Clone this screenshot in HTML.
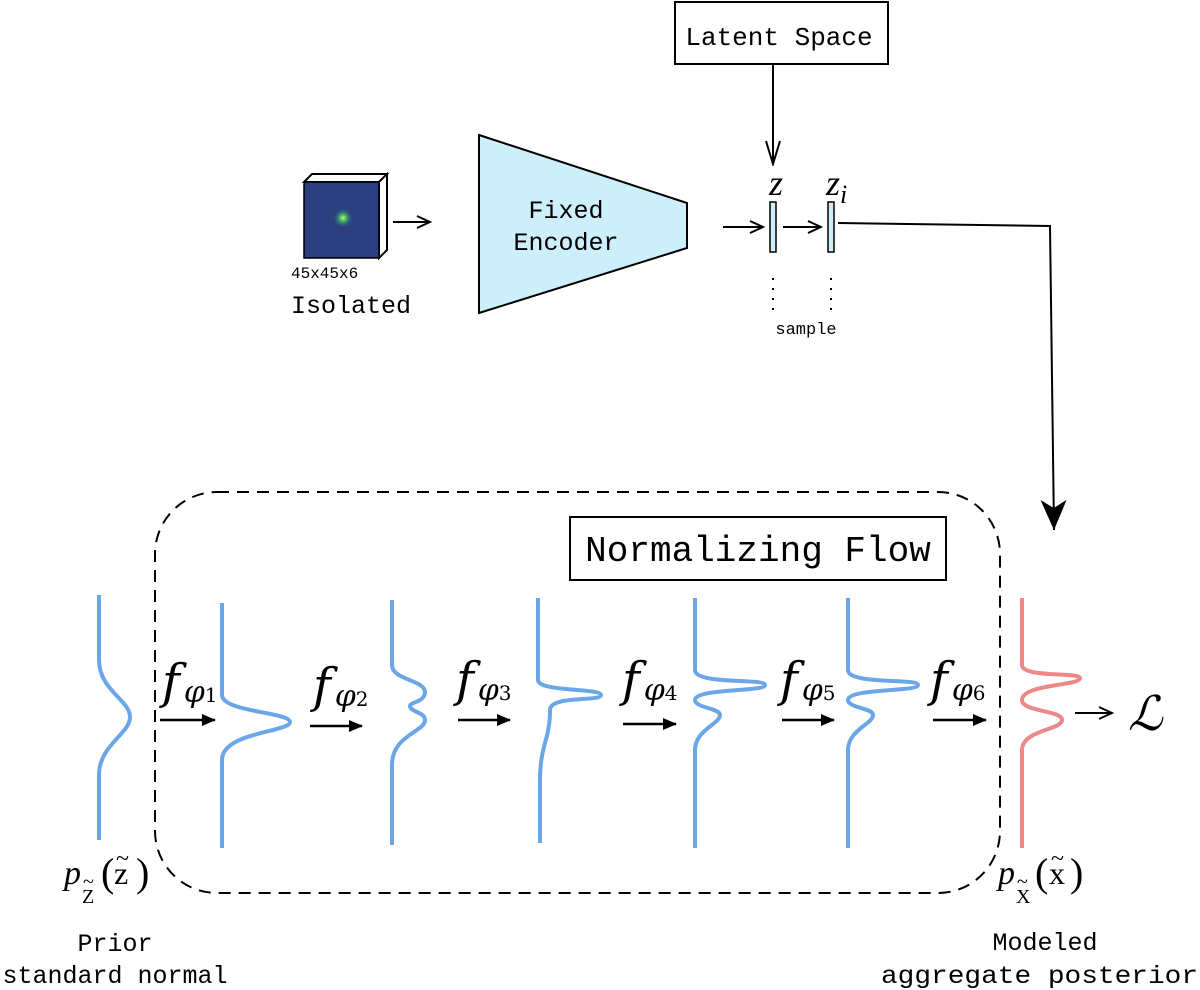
<!DOCTYPE html>
<html><head><meta charset="utf-8"><style>body{margin:0;background:#fff}svg{display:block}</style></head><body>
<svg width="1200" height="990" viewBox="0 0 1200 990" xmlns="http://www.w3.org/2000/svg">
<defs>
<marker id="open" markerWidth="16" markerHeight="14" refX="14" refY="7" orient="auto" markerUnits="userSpaceOnUse"><path d="M1,1 L14,7 L1,13" fill="none" stroke="#000" stroke-width="2"/></marker>
<marker id="fill" markerWidth="14" markerHeight="12" refX="13" refY="6" orient="auto" markerUnits="userSpaceOnUse"><path d="M0,0 L14,6 L0,12 Z" fill="#000"/></marker>
<marker id="vdown" markerWidth="26" markerHeight="18" refX="24" refY="9" orient="auto" markerUnits="userSpaceOnUse"><path d="M1,2 L24,9 L1,16" fill="none" stroke="#000" stroke-width="2"/></marker>
<marker id="barb" markerWidth="32" markerHeight="30" refX="30" refY="15" orient="auto" markerUnits="userSpaceOnUse"><path d="M0,2 L30,15 L0,28 L8,15 Z" fill="#000"/></marker>
<radialGradient id="spot"><stop offset="0" stop-color="#e8f040"/><stop offset="0.35" stop-color="#3cb070"/><stop offset="1" stop-color="#2a4b86" stop-opacity="0"/></radialGradient>
</defs>
<g font-family="Liberation Mono, monospace" fill="#000">
<rect x="675" y="2" width="213" height="62" fill="#fff" stroke="#000" stroke-width="2"/>
<text x="779" y="45" font-size="26" text-anchor="middle">Latent Space</text>
<line x1="773" y1="64" x2="773" y2="164" stroke="#000" stroke-width="2" marker-end="url(#vdown)"/>
<polygon points="304,182 312,174 387,174 379,182" fill="#fff" stroke="#000" stroke-width="2"/>
<polygon points="379,182 387,174 387,250 379,258" fill="#fff" stroke="#000" stroke-width="2"/>
<rect x="304" y="182" width="75" height="76" fill="#2b3f7e" stroke="#000" stroke-width="1.5"/>
<circle cx="343" cy="218" r="10" fill="url(#spot)"/>
<line x1="393" y1="222" x2="430" y2="222" stroke="#000" stroke-width="2" marker-end="url(#open)"/>
<text x="291" y="278" font-size="16">45x45x6</text>
<text x="291" y="313" font-size="25">Isolated</text>
<polygon points="479,135 687,203 687,248 479,313" fill="#cdeefb" stroke="#000" stroke-width="2"/>
<text x="566" y="218" font-size="25" text-anchor="middle">Fixed</text>
<text x="566" y="250" font-size="25" text-anchor="middle">Encoder</text>
<line x1="723" y1="227" x2="763" y2="227" stroke="#000" stroke-width="2" marker-end="url(#open)"/>
<rect x="770" y="202" width="6" height="50" fill="#cdeefb" stroke="#000" stroke-width="1.5"/>
<line x1="783" y1="227" x2="821" y2="227" stroke="#000" stroke-width="2" marker-end="url(#open)"/>
<rect x="828" y="202" width="6" height="50" fill="#cdeefb" stroke="#000" stroke-width="1.5"/>
<text x="776" y="195" font-size="36" font-style="italic" font-family="Liberation Serif, serif" text-anchor="middle">z</text>
<text x="826" y="195" font-size="36" font-style="italic" font-family="Liberation Serif, serif">z<tspan font-size="26" dy="8">i</tspan></text>
<line x1="773" y1="278" x2="773" y2="316" stroke="#000" stroke-width="2" stroke-dasharray="2,8"/>
<line x1="831" y1="278" x2="831" y2="316" stroke="#000" stroke-width="2" stroke-dasharray="2,8"/>
<text x="806" y="334" font-size="17" text-anchor="middle">sample</text>
<polyline points="838,223 1050,226 1054,530" fill="none" stroke="#000" stroke-width="2" marker-end="url(#barb)"/>
<rect x="155" y="492" width="845" height="401" rx="62" ry="62" fill="none" stroke="#000" stroke-width="2" stroke-dasharray="12,8"/>
<rect x="570" y="517" width="376" height="63" fill="#fff" stroke="#000" stroke-width="2"/>
<text x="758" y="561" font-size="36" text-anchor="middle">Normalizing Flow</text>
<g fill="none" stroke="#6aa6e8" stroke-width="4">
<path d="M99,595 L99,660 C99,690 130,700 130,717 C130,734 99,745 99,775 L99,840"/>
<path d="M222,603 L222,695 C222,712 290,712 290,722 C290,732 222,732 222,760 L222,848"/>
<path d="M392,600 L392,665 C392,680 425,680 425,692 C425,702 410,702 410,706 C410,712 425,712 425,720 C425,732 392,735 392,765 L392,845"/>
<path d="M538,598 L538,680 C538,692 601,688 601,695 C601,702 550,695 550,710 C550,740 540,745 540,780 L540,843"/>
<path d="M695,598 L695,670 C695,685 765,678 765,685 C765,692 695,688 695,700 C695,708 720,708 720,715 C720,724 695,730 695,750 L695,848"/>
<path d="M848,598 L848,670 C848,685 918,678 918,685 C918,692 848,688 848,700 C848,708 873,708 873,715 C873,724 848,730 848,750 L848,848"/>
</g>
<path d="M1022,598 L1022,665 C1022,678 1080,672 1080,678 C1080,686 1022,684 1022,700 C1022,712 1062,710 1062,720 C1062,730 1022,730 1022,750 L1022,848" fill="none" stroke="#ee8888" stroke-width="4"/>
<g stroke="#000" stroke-width="2.5">
<line x1="160" y1="720" x2="215" y2="720" marker-end="url(#fill)"/>
<line x1="310" y1="726" x2="362" y2="726" marker-end="url(#fill)"/>
<line x1="458" y1="720" x2="510" y2="720" marker-end="url(#fill)"/>
<line x1="623" y1="724" x2="676" y2="724" marker-end="url(#fill)"/>
<line x1="782" y1="720" x2="834" y2="720" marker-end="url(#fill)"/>
<line x1="933" y1="720" x2="986" y2="720" marker-end="url(#fill)"/>
</g>
<g font-family="DejaVu Serif, Liberation Serif, serif" font-style="italic">
<text x="162" y="698" font-size="48">f<tspan font-size="30" dx="4" dy="4">φ</tspan><tspan font-size="20" font-style="normal">1</tspan></text>
<text x="313" y="702" font-size="48">f<tspan font-size="30" dx="4" dy="4">φ</tspan><tspan font-size="20" font-style="normal">2</tspan></text>
<text x="456" y="696" font-size="48">f<tspan font-size="30" dx="4" dy="4">φ</tspan><tspan font-size="20" font-style="normal">3</tspan></text>
<text x="622" y="696" font-size="48">f<tspan font-size="30" dx="4" dy="4">φ</tspan><tspan font-size="20" font-style="normal">4</tspan></text>
<text x="780" y="696" font-size="48">f<tspan font-size="30" dx="4" dy="4">φ</tspan><tspan font-size="20" font-style="normal">5</tspan></text>
<text x="930" y="696" font-size="48">f<tspan font-size="30" dx="4" dy="4">φ</tspan><tspan font-size="20" font-style="normal">6</tspan></text>
</g>
<line x1="1075" y1="713" x2="1112" y2="713" stroke="#000" stroke-width="2" marker-end="url(#open)"/>
<text x="1128" y="730" font-size="48" font-family="DejaVu Serif, serif" font-style="italic">ℒ</text>
<g font-family="Liberation Serif, serif">
<text x="64" y="884" font-size="34" font-style="italic">p</text>
<text x="82" y="903" font-size="20">Z</text><text x="83" y="888" font-size="20">~</text>
<text x="101" y="886" font-size="40">(</text><text x="114" y="884" font-size="32">z</text><text x="116" y="866" font-size="24">~</text><text x="136" y="886" font-size="40">)</text>
<text x="998" y="884" font-size="34" font-style="italic">p</text>
<text x="1016" y="903" font-size="20">X</text><text x="1017" y="888" font-size="20">~</text>
<text x="1035" y="886" font-size="40">(</text><text x="1049" y="884" font-size="32">x</text><text x="1051" y="866" font-size="24">~</text><text x="1070" y="886" font-size="40">)</text>
</g>
<text x="115" y="951" font-size="25" text-anchor="middle">Prior</text>
<text x="115" y="983" font-size="25" text-anchor="middle">standard normal</text>
<text x="1045" y="950" font-size="25" text-anchor="middle">Modeled</text>
<text x="881" y="983" font-size="25" textLength="317" lengthAdjust="spacingAndGlyphs">aggregate posterior</text>
</g>
</svg>
</body></html>
